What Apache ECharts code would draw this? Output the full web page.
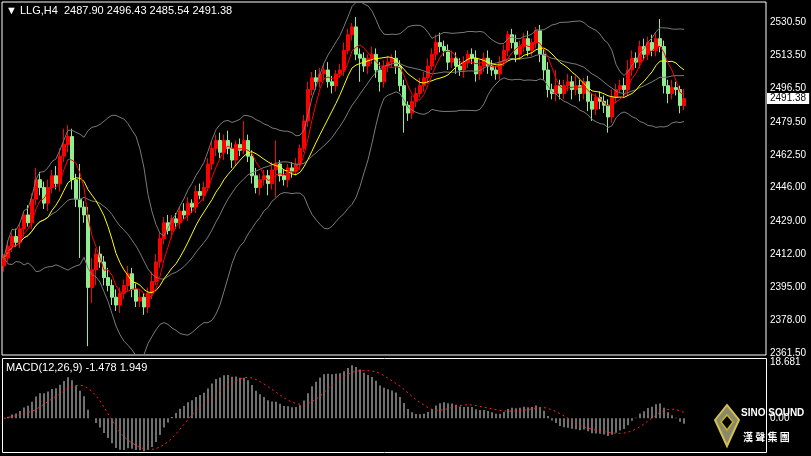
<!DOCTYPE html>
<html><head><meta charset="utf-8">
<script src="https://cdn.jsdelivr.net/npm/echarts@6/dist/echarts.min.js"></script>
<style>html,body{margin:0;padding:0;background:#000}#c{width:811px;height:456px}</style>
</head><body><div id="c"></div>
<script>
const symbolName = 'LLG,H4';
const closes = [
2410,2416,2421,2418,2425,2432,2428,2440,2450,2446,
2438,2446,2452,2448,2462,2468,2472,2450,2440,2436,
2432,2395,2404,2412,2408,2400,2396,2390,2386,2392,
2396,2402,2394,2388,2390,2385,2392,2398,2408,2420,
2428,2424,2430,2428,2434,2432,2438,2436,2444,2442,
2446,2458,2466,2470,2464,2470,2466,2460,2468,2465,
2470,2462,2452,2446,2450,2452,2448,2455,2458,2452,
2450,2456,2454,2458,2466,2480,2496,2502,2500,2504,
2506,2500,2498,2504,2506,2516,2524,2528,2514,2512,
2508,2512,2514,2506,2500,2508,2510,2512,2508,2498,
2488,2484,2490,2494,2498,2502,2508,2514,2520,2518,
2516,2510,2512,2508,2506,2510,2514,2512,2504,2508,
2512,2508,2506,2504,2510,2516,2524,2520,2514,2518,
2522,2516,2520,2526,2514,2506,2496,2494,2498,2494,
2498,2500,2496,2498,2494,2500,2490,2486,2492,2490,
2488,2482,2492,2496,2498,2496,2506,2512,2510,2518,
2514,2520,2516,2522,2518,2498,2494,2497,2496,2487.90,2491.38];
const firstOpen = 2406;
const upperWick = [
2,3,2,4,3,2,5,3,6,4, 3,4,3,5,4,8,6,4,3,18, 3,4,6,3,4,3,5,3,4,3, 3,4,3,3,4,2,3,5,4,3,
3,4,2,3,2,4,3,2,3,4, 3,3,4,3,4,3,5,3,2,3, 10,3,3,4,3,3,3,4,12,2, 3,2,3,3,2,3,4,3,4,3,
3,4,3,2,3,4,3,2,5,3, 3,2,4,3,4,3,3,2,4,3, 3,2,3,3,4,3,4,3,4,5, 3,3,4,3,4,3,2,3,4,3,
3,4,3,2,3,3,2,3,4,3, 3,4,2,2,3,3,4,3,8,3, 3,4,3,5,3,2,3,4,2,3, 3,3,4,3,3,4,5,4,3,3,
4,3,4,3,10,3,3,4,3,2,5.05];
const lowerWick = [
3,2,3,2,3,4,2,3,3,4, 3,4,3,3,4,3,4,5,4,26, 4,30,8,8,3,4,3,4,3,4, 3,3,4,3,3,4,3,3,2,3,
3,2,4,3,3,2,3,3,3,2, 3,2,3,4,3,4,3,4,3,3, 2,3,4,3,4,3,6,3,14,3, 3,4,3,2,3,2,3,3,4,3,
3,3,4,3,2,3,2,3,3,12, 3,4,3,4,5,3,3,3,4,3, 14,4,3,3,2,3,3,2,3,3, 3,4,3,4,3,4,3,3,4,3,
3,4,3,3,3,2,3,3,4,3, 3,3,3,3,4,5,4,3,4,3, 3,3,5,3,4,3,5,6,3,4, 4,8,3,3,2,4,3,3,3,3,
3,3,3,3,3,4,5,3,3,4,2.36];
const priceTicks = [2530.50,2513.50,2496.50,2479.50,2462.50,2446.00,2429.00,2412.00,2395.00,2378.00,2361.50];
const macdTicks = [18.681,0.00,-11.195];
const macdHeader = 'MACD(12,26,9) -1.478 1.949';

const N = 191;
const cats = Array.from({length:N},(_,i)=>i);
const opens = closes.map((c,i)=> i===0 ? firstOpen : closes[i-1]);
const candles = closes.map((c,i)=>{
  const o=opens[i]; return [o,c,Math.min(o,c)-lowerWick[i],Math.max(o,c)+upperWick[i]];
});
function sma(arr,p){return arr.map((_,i)=>{const s=Math.max(0,i-p+1);let t=0;for(let k=s;k<=i;k++)t+=arr[k];return t/(i-s+1);});}
function ema(arr,p){const a=2/(p+1);let e=arr[0];return arr.map(v=>(e=e+a*(v-e)));}
const ma5 = sma(closes,5), ma12 = sma(closes,12), mid = sma(closes,20);
const up=[],dn=[];
closes.forEach((_,i)=>{const s=Math.max(0,i-19);let v=0;for(let k=s;k<=i;k++)v+=(closes[k]-mid[i])**2;const sd=Math.sqrt(v/(i-s+1));up.push(mid[i]+2*sd);dn.push(mid[i]-2*sd);});
const e12=ema(closes,12), e26=ema(closes,26);
const macd = closes.map((_,i)=>e12[i]-e26[i]);
const sig = sma(macd,9);
const r = v=>+v.toFixed(3);
const last = candles[candles.length-1];
const header = '\u25BC ' + symbolName + '  ' + [last[0],last[3],last[2],last[1]].map(v=>v.toFixed(2)).join(' ');

const font = 'Liberation Sans';
const chart = echarts.init(document.getElementById('c'));
function line(data,color,type){return {type:'line',data:data.map(r),symbol:'none',lineStyle:{color,width:1,type:type||'solid'},z:3,animation:false,silent:true};}
const invisLine = {color:'rgba(0,0,0,0)',width:1};
const tickLabel = {show:true,position:'end',color:'#fff',fontSize:10,fontFamily:font,distance:4};
chart.setOption({
  backgroundColor:'#000',
  animation:false,
  textStyle:{fontFamily:font},
  grid:[{left:2,top:2,width:764,height:353,show:true,borderColor:'#fff',borderWidth:1},
        {left:2,top:362,width:764,height:90,show:false}],
  xAxis:[{type:'category',data:cats,gridIndex:0,show:false,boundaryGap:true},
         {type:'category',data:cats,gridIndex:1,show:false,boundaryGap:true}],
  yAxis:[{type:'value',gridIndex:0,min:2360.5,max:2540.7,show:false},
         {type:'value',gridIndex:1,min:-11.195,max:18.681,show:false}],
  series:[
    {type:'candlestick',data:candles,barWidth:3,xAxisIndex:0,yAxisIndex:0,z:2,
     itemStyle:{color:'#ff0000',color0:'#90ee90',borderColor:'#ff0000',borderColor0:'#90ee90',borderWidth:1},
     markLine:{symbol:'none',silent:true,animation:false,lineStyle:invisLine,label:tickLabel,
       data:priceTicks.map(v=>({yAxis:v,label:{formatter:v.toFixed(2)}})).concat([
         {yAxis:closes[closes.length-1],label:{formatter:closes[closes.length-1].toFixed(2),color:'#000',backgroundColor:'#fff',padding:[1,3,0,3],distance:1,fontSize:10}}])}},
    Object.assign(line(up,'#7a7a7a'),{xAxisIndex:0,yAxisIndex:0}),
    Object.assign(line(mid,'#7a7a7a'),{xAxisIndex:0,yAxisIndex:0}),
    Object.assign(line(dn,'#7a7a7a'),{xAxisIndex:0,yAxisIndex:0}),
    Object.assign(line(ma12,'#ffff00'),{xAxisIndex:0,yAxisIndex:0,z:4}),
    Object.assign(line(ma5,'#ff0000'),{xAxisIndex:0,yAxisIndex:0,z:5}),
    {type:'bar',data:macd.map(r),xAxisIndex:1,yAxisIndex:1,barWidth:1,itemStyle:{color:'#e0e0e0'},silent:true,
     markLine:{symbol:'none',silent:true,animation:false,lineStyle:invisLine,label:tickLabel,
       data:macdTicks.map(v=>({yAxis:v,label:{formatter:v.toFixed(v===0?2:3)}}))}},
    Object.assign(line(sig,'#ff2020',[2,3]),{xAxisIndex:1,yAxisIndex:1})
  ],
  graphic:[
    {type:'rect',shape:{x:2.5,y:358.5,width:764,height:94},style:{fill:null,stroke:'#fff',lineWidth:1},silent:true},
    {type:'text',left:6,top:5,style:{text:header,fill:'#fff',font:'11px "Liberation Sans"'}},
    {type:'text',left:6,top:362,style:{text:macdHeader,fill:'#fff',font:'11px "Liberation Sans"'}},
    {type:'polygon',shape:{points:[[715,420],[727,405],[739,420],[727,446]]},style:{fill:'#8a8a6a',stroke:'#d4c050',lineWidth:2}},
    {type:'polygon',shape:{points:[[721,422],[727,415],[733,422],[727,430]]},style:{fill:'#000',stroke:'#c8b020',lineWidth:1.5}},
    {type:'text',left:741,top:408,style:{text:'SINO SOUND',fill:'#fff',font:'bold 10px "Liberation Sans Narrow", "Liberation Sans"'}},
    {type:'text',left:743,top:432,style:{text:'漢 聲 集 團',fill:'#fff',font:'bold 10px "Noto Sans CJK TC"'}}
  ]
});
</script></body></html>
